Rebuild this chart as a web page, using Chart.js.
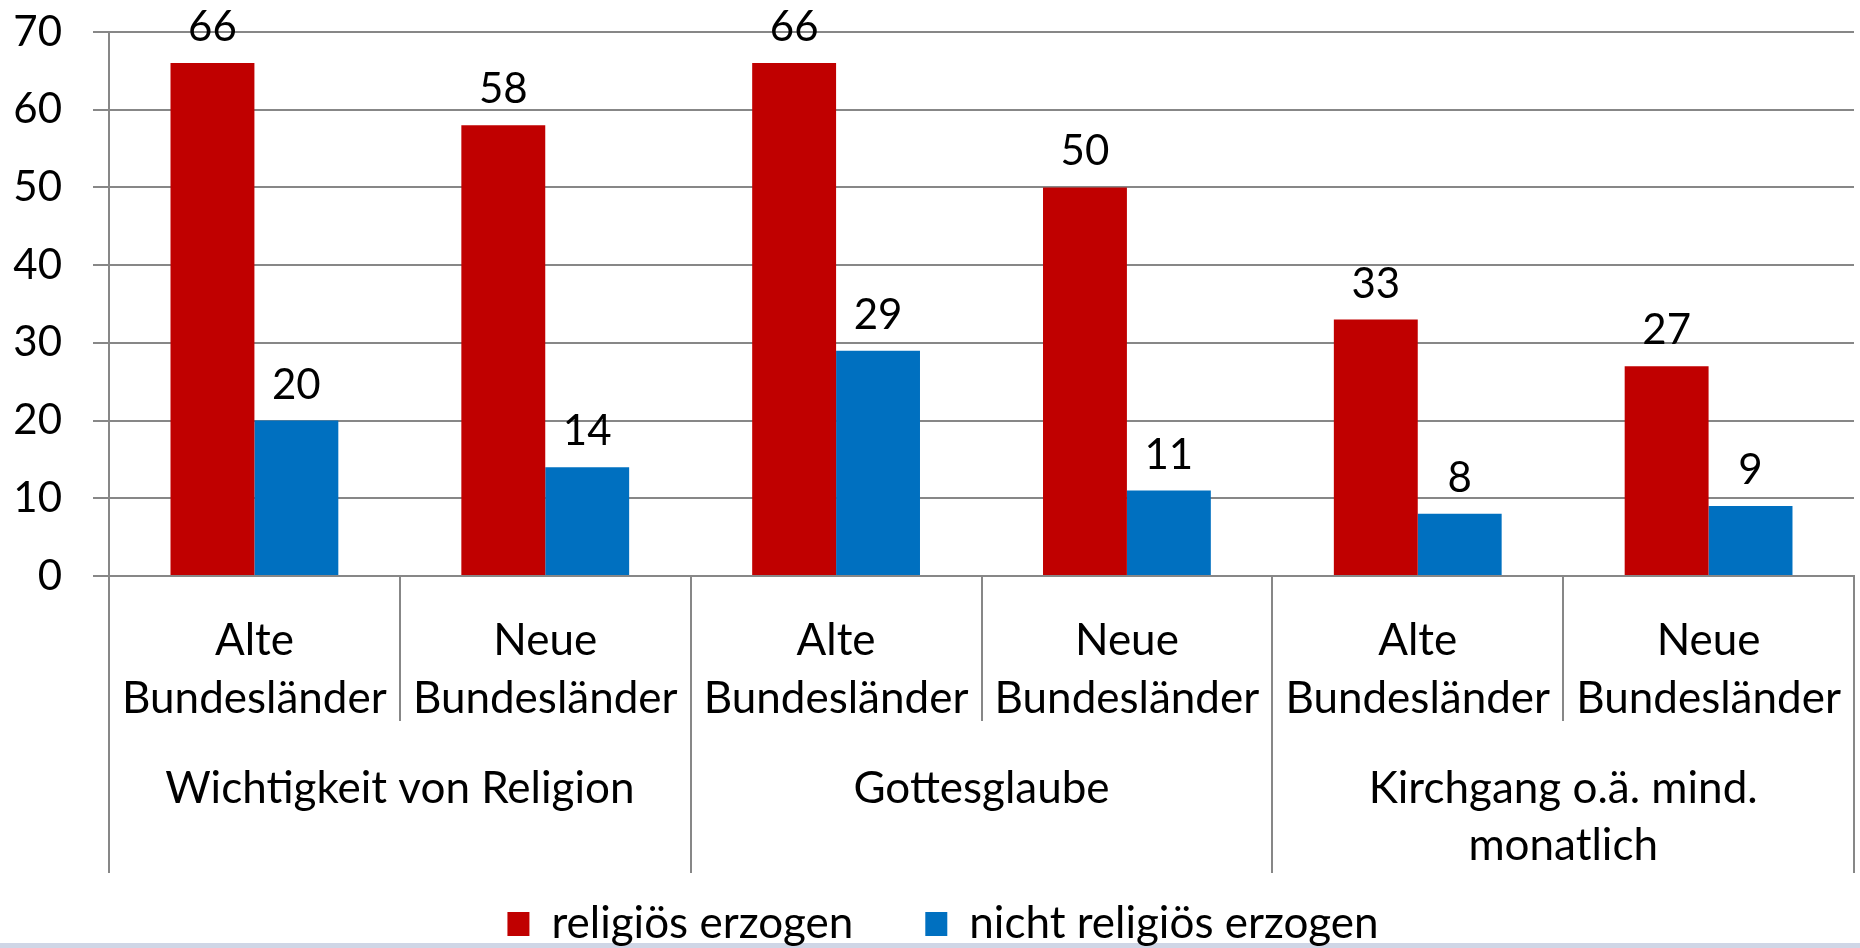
<!DOCTYPE html>
<html><head><meta charset="utf-8">
<script src="https://cdn.jsdelivr.net/npm/chart.js@4.4.1/dist/chart.umd.min.js"></script>
<style>
html,body{margin:0;padding:0;background:#fff;overflow:hidden;}
#wrap{position:relative;width:1860px;height:948px;}
#strip{position:absolute;left:0;right:0;bottom:0;height:5px;background:#CFD6E6;}
canvas{position:absolute;left:0;top:0;}
</style></head><body>
<div id="wrap"><div id="strip"></div><canvas id="c" width="1860" height="948"></canvas></div>
<script>
const categories = [["Alte","Bundesländer"],["Neue","Bundesländer"],["Alte","Bundesländer"],["Neue","Bundesländer"],["Alte","Bundesländer"],["Neue","Bundesländer"]];
const groups = [["Wichtigkeit von Religion"],["Gottesglaube"],["Kirchgang o.ä. mind.","monatlich"]];
const groupSizes = [2,2,2];
const seriesNames = ["religiös erzogen","nicht religiös erzogen"];
const religioesErzogen = [66,58,66,50,33,27];
const nichtReligioesErzogen = [20,14,29,11,8,9];
const yMin = 0, yMax = 70, yStep = 10;

const FONT = 'Lato';
const GRID = '#878787';
const TXT = 44;
const NUM = 42;

const decor = {
  id: 'decor',
  afterDatasetsDraw(chart) {
    const ctx = chart.ctx;
    ctx.save();
    ctx.font = NUM + 'px ' + FONT;
    ctx.fillStyle = '#000';
    ctx.textAlign = 'center';
    ctx.textBaseline = 'alphabetic';
    chart.data.datasets.forEach((ds, di) => {
      chart.getDatasetMeta(di).data.forEach((bar, i) => {
        ctx.fillText(String(ds.data[i]), bar.x, bar.y - 22);
      });
    });
    ctx.restore();
  },
  afterDraw(chart) {
    const ctx = chart.ctx;
    const x = chart.scales.x;
    const n = categories.length;
    const top = x.top;
    const bounds = [];
    for (let i = 0; i <= n; i++) {
      if (i === 0) bounds.push(x.left);
      else if (i === n) bounds.push(x.right);
      else bounds.push((x.getPixelForTick(i - 1) + x.getPixelForTick(i)) / 2);
    }
    const groupEdges = new Set([0]);
    let acc = 0;
    groupSizes.forEach(s => { acc += s; groupEdges.add(acc); });
    ctx.save();
    ctx.strokeStyle = GRID;
    ctx.lineWidth = 2;
    bounds.forEach((bx, i) => {
      const px = Math.round(bx);
      const len = groupEdges.has(i) ? 297 : 145;
      ctx.beginPath();
      ctx.moveTo(px, top);
      ctx.lineTo(px, top + len);
      ctx.stroke();
    });
    ctx.font = TXT + 'px ' + FONT;
    ctx.fillStyle = '#000';
    ctx.textAlign = 'center';
    ctx.textBaseline = 'middle';
    let start = 0;
    groups.forEach((lines, g) => {
      const cx = (bounds[start] + bounds[start + groupSizes[g]]) / 2;
      lines.forEach((t, li) => ctx.fillText(t, cx, top + 213 + li * 57));
      start += groupSizes[g];
    });
    ctx.restore();
  }
};

new Chart(document.getElementById('c'), {
  type: 'bar',
  data: {
    labels: categories,
    datasets: [
      { label: seriesNames[0], data: religioesErzogen, backgroundColor: '#C00000', borderWidth: 0 },
      { label: seriesNames[1], data: nichtReligioesErzogen, backgroundColor: '#0070C0', borderWidth: 0 }
    ]
  },
  options: {
    responsive: false,
    devicePixelRatio: 1,
    animation: false,
    layout: { padding: { top: 32, right: -26, left: 0, bottom: -8 } },
    datasets: { bar: { barPercentage: 1, categoryPercentage: 0.577 } },
    plugins: {
      tooltip: { enabled: false },
      legend: {
        position: 'bottom',
        labels: {
          font: { family: FONT, size: TXT },
          color: '#000',
          boxWidth: 22,
          boxHeight: 24,
          padding: 72
        }
      }
    },
    scales: {
      x: {
        grid: { display: false },
        border: { display: true, color: GRID, width: 2 },
        ticks: {
          font: { family: FONT, size: TXT, lineHeight: 58 / TXT },
          color: '#000',
          padding: 28,
          maxRotation: 0,
          autoSkip: false
        },
        afterFit(s) { s.height = 254; s.paddingLeft = 0; s.paddingRight = 0; }
      },
      y: {
        min: yMin, max: yMax,
        grid: { color: GRID, lineWidth: 2, tickLength: 16, drawTicks: true },
        border: { display: true, color: GRID, width: 2 },
        ticks: {
          stepSize: yStep,
          font: { family: FONT, size: NUM },
          color: '#000',
          padding: 31
        },
        afterFit(s) { s.width = 109; s.paddingTop = 0; s.paddingBottom = 0; }
      },
      yRightSpacer: {
        position: 'right',
        display: true,
        grid: { display: false },
        border: { display: false },
        ticks: { display: false },
        afterFit(s) { s.width = 32; s.paddingTop = 0; s.paddingBottom = 0; }
      }
    }
  },
  plugins: [decor]
});
</script>
</body></html>
